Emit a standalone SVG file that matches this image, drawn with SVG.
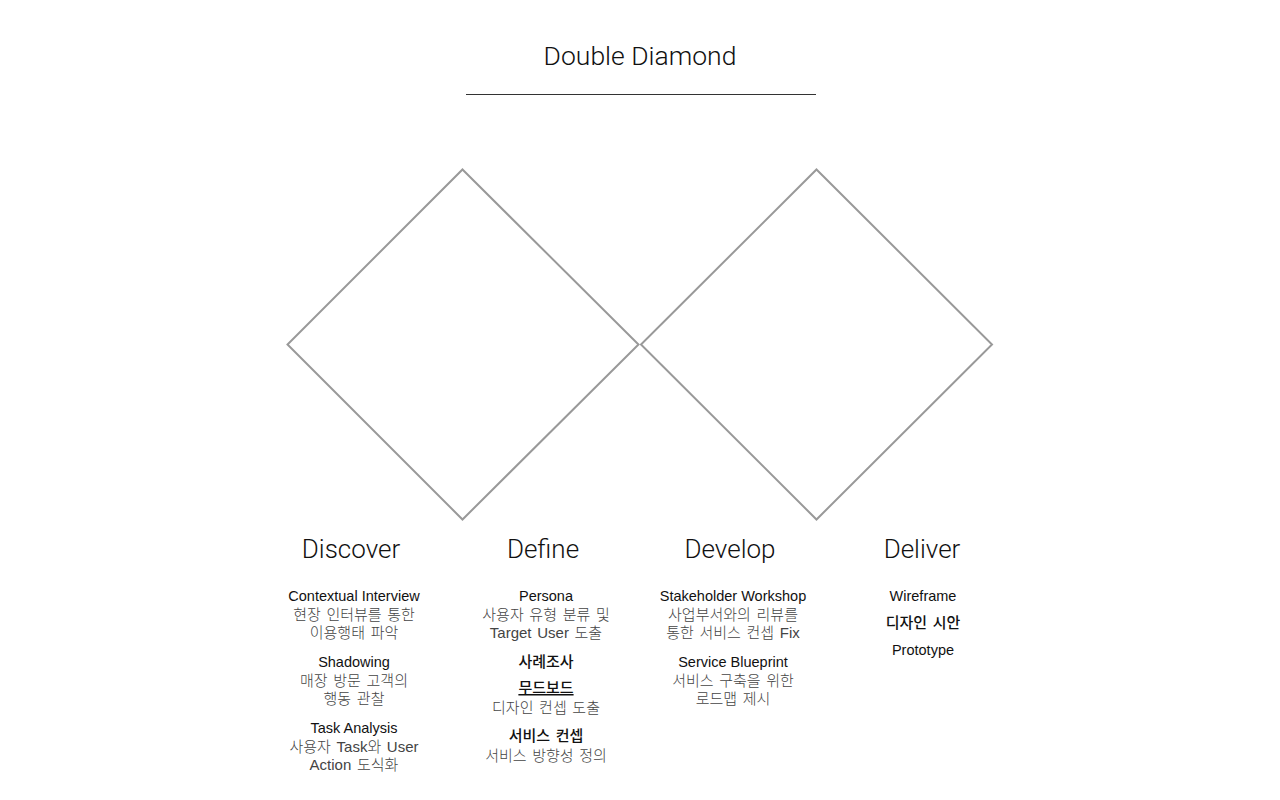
<svg xmlns="http://www.w3.org/2000/svg" width="1280" height="800" viewBox="0 0 1280 800">
<style>
text{font-family:"Liberation Sans","Noto Sans CJK KR",sans-serif;text-anchor:middle}
.title{font-family:Roboto,"Liberation Sans",sans-serif;font-size:26.5px;font-weight:300;fill:#111}
.head{font-family:Roboto,"Liberation Sans",sans-serif;font-size:26px;font-weight:300;fill:#111}
.item{font-size:14.5px;fill:#111}
.desc{font-size:15px;font-weight:300;fill:#444;word-spacing:1.5px}
.strong{font-size:15px;font-weight:500;fill:#111;word-spacing:1.5px}
.dia{fill:none;stroke:#999;stroke-width:2}
</style>
<rect width="1280" height="800" fill="#fff"/>
<g id="title">
<text class="title" x="640" y="65">Double Diamond</text>
<line x1="466" y1="94.5" x2="816" y2="94.5" stroke="#333" stroke-width="1"/>
</g>
<g id="connectors">
<polygon id="diamond-left" class="dia" points="462.5,169.5 638.5,344.5 462.5,519.5 287.5,344.5"/>
<polygon id="diamond-right" class="dia" points="816.5,169.5 992,344.5 816.5,519.5 641,344.5"/>
</g>
<g id="discover">
<text class="head" x="351" y="558">Discover</text>
<text class="item" x="354" y="601">Contextual Interview</text>
<text class="desc" x="354" y="620">현장 인터뷰를 통한</text>
<text class="desc" x="354" y="638">이용행태 파악</text>
<text class="item" x="354" y="667">Shadowing</text>
<text class="desc" x="354" y="686">매장 방문 고객의</text>
<text class="desc" x="354" y="704">행동 관찰</text>
<text class="item" x="354" y="733">Task Analysis</text>
<text class="desc" x="354" y="752">사용자 Task와 User</text>
<text class="desc" x="354" y="770">Action 도식화</text>
</g>
<g id="define">
<text class="head" x="543" y="558">Define</text>
<text class="item" x="546" y="601">Persona</text>
<text class="desc" x="546" y="620">사용자 유형 분류 및</text>
<text class="desc" x="546" y="638">Target User 도출</text>
<text class="strong" x="546" y="667">사례조사</text>
<text class="strong" x="546" y="693" text-decoration="underline">무드보드</text>
<text class="desc" x="546" y="713">디자인 컨셉 도출</text>
<text class="strong" x="546" y="741">서비스 컨셉</text>
<text class="desc" x="546" y="761">서비스 방향성 정의</text>
</g>
<g id="develop">
<text class="head" x="730" y="558">Develop</text>
<text class="item" x="733" y="601">Stakeholder Workshop</text>
<text class="desc" x="733" y="620">사업부서와의 리뷰를</text>
<text class="desc" x="733" y="638">통한 서비스 컨셉 Fix</text>
<text class="item" x="733" y="667">Service Blueprint</text>
<text class="desc" x="733" y="686">서비스 구축을 위한</text>
<text class="desc" x="733" y="704">로드맵 제시</text>
</g>
<g id="deliver">
<text class="head" x="922" y="558">Deliver</text>
<text class="item" x="923" y="601">Wireframe</text>
<text class="strong" x="923" y="628">디자인 시안</text>
<text class="item" x="923" y="655">Prototype</text>
</g>
</svg>
